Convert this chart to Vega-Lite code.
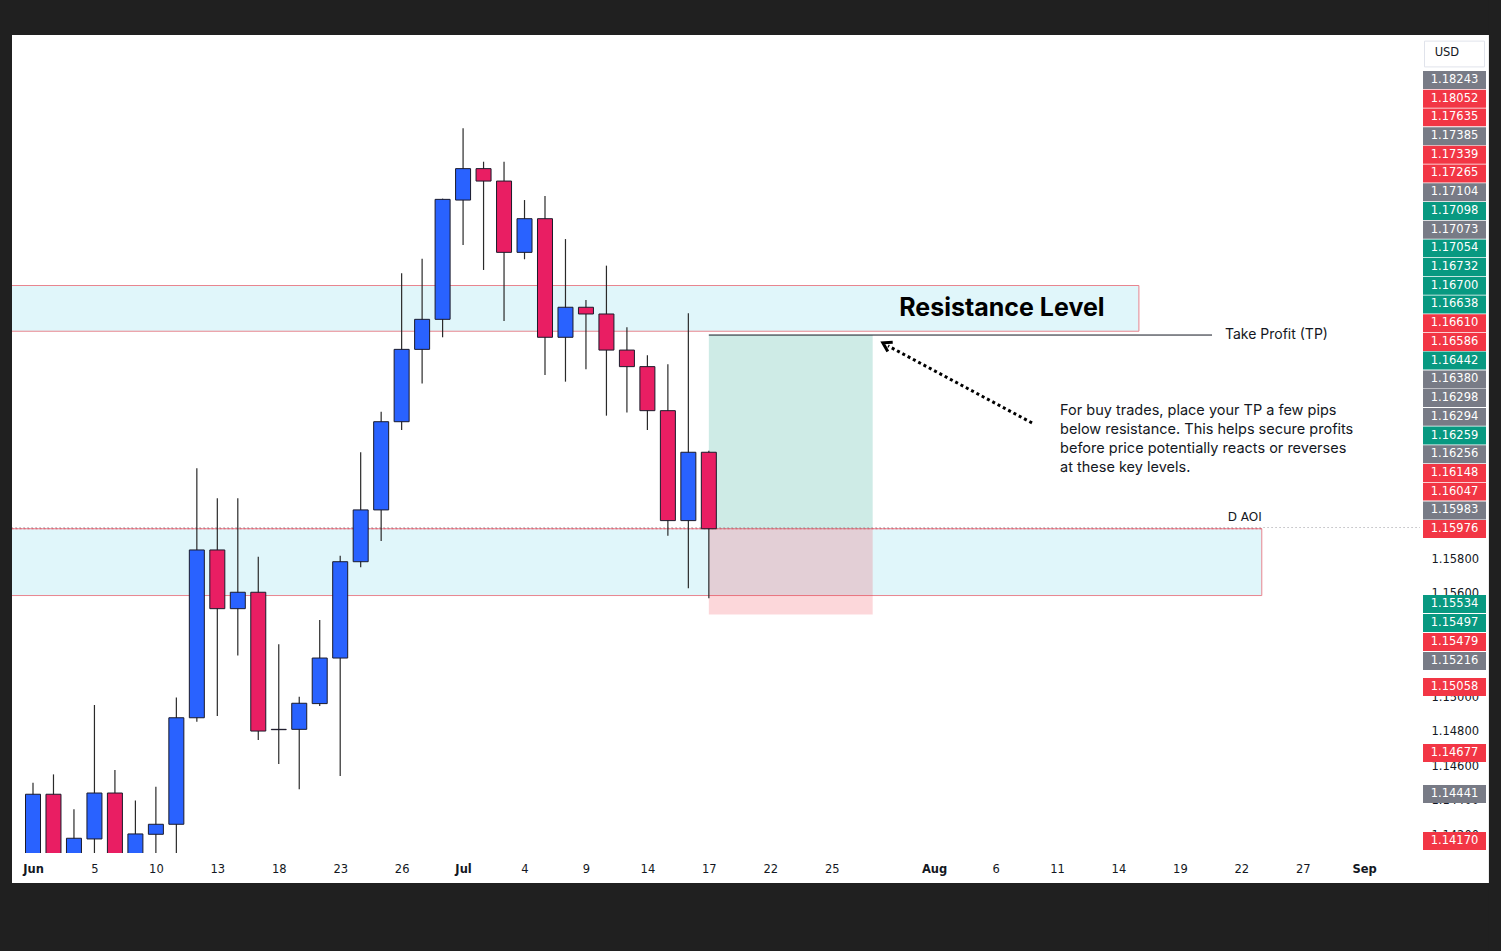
{
  "$schema": "https://vega.github.io/schema/vega-lite/v6.json",
  "width": 1408,
  "height": 818,
  "autosize": {"type": "none"},
  "padding": {"left": 12, "top": 35, "right": 81, "bottom": 98},
  "background": "#ffffff",
  "config": {"view": {"stroke": null}, "axis": {"grid": false}},
  "datasets": {
    "candles": [
      {"date": "2025-06-02", "i": 0, "o": 1.1347, "h": 1.14505, "l": 1.1345, "c": 1.14438},
      {"date": "2025-06-03", "i": 1, "o": 1.14438, "h": 1.14553, "l": 1.1368, "c": 1.1371},
      {"date": "2025-06-04", "i": 2, "o": 1.1371, "h": 1.14351, "l": 1.1357, "c": 1.14183},
      {"date": "2025-06-05", "i": 3, "o": 1.14179, "h": 1.14955, "l": 1.1395, "c": 1.14445},
      {"date": "2025-06-06", "i": 4, "o": 1.14445, "h": 1.14578, "l": 1.1374, "c": 1.1397},
      {"date": "2025-06-09", "i": 5, "o": 1.1397, "h": 1.14401, "l": 1.1386, "c": 1.14208},
      {"date": "2025-06-10", "i": 6, "o": 1.14206, "h": 1.14482, "l": 1.1389, "c": 1.14264},
      {"date": "2025-06-11", "i": 7, "o": 1.14264, "h": 1.14999, "l": 1.1403, "c": 1.14881},
      {"date": "2025-06-12", "i": 8, "o": 1.14881, "h": 1.16326, "l": 1.14858, "c": 1.15853},
      {"date": "2025-06-13", "i": 9, "o": 1.15853, "h": 1.16152, "l": 1.14891, "c": 1.15513},
      {"date": "2025-06-16", "i": 10, "o": 1.15513, "h": 1.16152, "l": 1.15241, "c": 1.15608},
      {"date": "2025-06-17", "i": 11, "o": 1.15608, "h": 1.15814, "l": 1.14752, "c": 1.14804},
      {"date": "2025-06-18", "i": 12, "o": 1.14814, "h": 1.15307, "l": 1.14613, "c": 1.14812},
      {"date": "2025-06-19", "i": 13, "o": 1.14814, "h": 1.15003, "l": 1.14467, "c": 1.14965},
      {"date": "2025-06-20", "i": 14, "o": 1.14963, "h": 1.15447, "l": 1.14949, "c": 1.15227},
      {"date": "2025-06-23", "i": 15, "o": 1.15227, "h": 1.1582, "l": 1.14544, "c": 1.15785},
      {"date": "2025-06-24", "i": 16, "o": 1.15785, "h": 1.16419, "l": 1.15753, "c": 1.16085},
      {"date": "2025-06-25", "i": 17, "o": 1.16085, "h": 1.16654, "l": 1.15905, "c": 1.16596},
      {"date": "2025-06-26", "i": 18, "o": 1.16596, "h": 1.17456, "l": 1.16548, "c": 1.17015},
      {"date": "2025-06-27", "i": 19, "o": 1.17015, "h": 1.1754, "l": 1.16818, "c": 1.17189},
      {"date": "2025-06-30", "i": 20, "o": 1.17189, "h": 1.17888, "l": 1.17085, "c": 1.17884},
      {"date": "2025-07-01", "i": 21, "o": 1.1788, "h": 1.18296, "l": 1.1762, "c": 1.18062},
      {"date": "2025-07-02", "i": 22, "o": 1.18062, "h": 1.18102, "l": 1.17475, "c": 1.1799},
      {"date": "2025-07-03", "i": 23, "o": 1.1799, "h": 1.18102, "l": 1.17179, "c": 1.17577},
      {"date": "2025-07-04", "i": 24, "o": 1.17577, "h": 1.1788, "l": 1.17537, "c": 1.17772},
      {"date": "2025-07-07", "i": 25, "o": 1.17772, "h": 1.17903, "l": 1.16867, "c": 1.17085},
      {"date": "2025-07-08", "i": 26, "o": 1.17085, "h": 1.17654, "l": 1.16828, "c": 1.17259},
      {"date": "2025-07-09", "i": 27, "o": 1.17259, "h": 1.17301, "l": 1.169, "c": 1.1722},
      {"date": "2025-07-10", "i": 28, "o": 1.1722, "h": 1.175, "l": 1.16631, "c": 1.17011},
      {"date": "2025-07-11", "i": 29, "o": 1.17011, "h": 1.17143, "l": 1.1665, "c": 1.16915},
      {"date": "2025-07-14", "i": 30, "o": 1.16915, "h": 1.16981, "l": 1.16548, "c": 1.1666},
      {"date": "2025-07-15", "i": 31, "o": 1.1666, "h": 1.16929, "l": 1.15936, "c": 1.16023},
      {"date": "2025-07-16", "i": 32, "o": 1.16023, "h": 1.17224, "l": 1.15631, "c": 1.16419},
      {"date": "2025-07-17", "i": 33, "o": 1.16419, "h": 1.16428, "l": 1.15573, "c": 1.15976}
    ],
    "pricelabels": [
      {"v": 1.18243, "kind": "grey", "at": 1.18575},
      {"v": 1.18052, "kind": "red", "at": 1.18467},
      {"v": 1.17635, "kind": "red", "at": 1.18359},
      {"v": 1.17385, "kind": "grey", "at": 1.1825},
      {"v": 1.17339, "kind": "red", "at": 1.18142},
      {"v": 1.17265, "kind": "red", "at": 1.18034},
      {"v": 1.17104, "kind": "grey", "at": 1.17925},
      {"v": 1.17098, "kind": "green", "at": 1.17817},
      {"v": 1.17073, "kind": "grey", "at": 1.17708},
      {"v": 1.17054, "kind": "green", "at": 1.176},
      {"v": 1.16732, "kind": "green", "at": 1.17492},
      {"v": 1.167, "kind": "green", "at": 1.17383},
      {"v": 1.16638, "kind": "green", "at": 1.17275},
      {"v": 1.1661, "kind": "red", "at": 1.17166},
      {"v": 1.16586, "kind": "red", "at": 1.17058},
      {"v": 1.16442, "kind": "green", "at": 1.1695},
      {"v": 1.1638, "kind": "grey", "at": 1.16841},
      {"v": 1.16298, "kind": "grey", "at": 1.16733},
      {"v": 1.16294, "kind": "grey", "at": 1.16624},
      {"v": 1.16259, "kind": "green", "at": 1.16516},
      {"v": 1.16256, "kind": "grey", "at": 1.16408},
      {"v": 1.16148, "kind": "red", "at": 1.16299},
      {"v": 1.16047, "kind": "red", "at": 1.16191},
      {"v": 1.15983, "kind": "grey", "at": 1.16082},
      {"v": 1.15976, "kind": "red", "at": 1.15974},
      {"v": 1.15534, "kind": "green", "at": 1.1554},
      {"v": 1.15497, "kind": "green", "at": 1.1543},
      {"v": 1.15479, "kind": "red", "at": 1.1532},
      {"v": 1.15216, "kind": "grey", "at": 1.1521},
      {"v": 1.15058, "kind": "red", "at": 1.15059},
      {"v": 1.14677, "kind": "red", "at": 1.14677},
      {"v": 1.14441, "kind": "grey", "at": 1.14439},
      {"v": 1.1417, "kind": "red", "at": 1.14167}
    ]
  },
  "data": {"name": "candles"},
  "layer": [
    {
      "data": {"values": [{}]},
      "mark": {"type": "rect", "color": "#202020"},
      "encoding": {
        "x": {"datum": -5, "type": "quantitative", "scale": {"domain": [-1.0254, 67.725], "nice": false, "zero": false, "padding": 0},
          "axis": {
            "orient": "bottom", "domain": false, "ticks": false, "title": null,
            "values": [0, 3, 6, 9, 12, 15, 18, 21, 24, 27, 30, 33, 36, 39, 44, 47, 50, 53, 56, 59, 62, 65],
            "labelExpr": "['Jun','5','10','13','18','23','26','Jul','4','9','14','17','22','25','Aug','6','11','14','19','22','27','Sep'][indexof([0,3,6,9,12,15,18,21,24,27,30,33,36,39,44,47,50,53,56,59,62,65], datum.value)]",
            "labelFont": "DejaVu Sans", "labelFontSize": 11.5, "labelColor": "#131722",
            "labelFontWeight": {"condition": {"test": "indexof([0,21,44,65], datum.value) >= 0", "value": "bold"}, "value": "normal"},
            "labelPadding": 16, "labelBaseline": "middle", "labelOverlap": false, "labelFlush": false
          }},
        "x2": {"datum": 75},
        "y": {"datum": 1.188361, "type": "quantitative", "scale": {"domain": [1.140976, 1.188361], "nice": false, "zero": false, "padding": 0},
          "axis": {
            "orient": "right", "domain": false, "ticks": false, "title": null,
            "values": [1.142, 1.144, 1.146, 1.148, 1.15, 1.152, 1.154, 1.156, 1.158],
            "format": ".5f", "labelFont": "DejaVu Sans", "labelFontSize": 11.5, "labelColor": "#131722",
            "labelPadding": 11, "labelOverlap": false, "labelFlush": false
          }},
        "y2": {"datum": 1.2}
      }
    },
    {
      "data": {"values": [{}]},
      "mark": {"type": "rect", "color": "#202020"},
      "encoding": {"x": {"datum": -5}, "x2": {"datum": 75}, "y": {"datum": 1.139238}, "y2": {"datum": 1.13}}
    },
    {
      "data": {"values": [{}]},
      "mark": {"type": "rect", "color": "#202020"},
      "encoding": {"x": {"datum": -5}, "x2": {"datum": -1.0254}, "y": {"datum": 1.13}, "y2": {"datum": 1.2}}
    },
    {
      "data": {"values": [{}]},
      "mark": {"type": "rect", "color": "#202020"},
      "encoding": {"x": {"datum": 71.09}, "x2": {"datum": 75}, "y": {"datum": 1.13}, "y2": {"datum": 1.2}}
    },
    {
      "data": {"values": [{}]},
      "mark": {"type": "rect", "fill": "#e0f6fa", "stroke": "#e8858f", "strokeWidth": 1, "clip": true},
      "encoding": {"x": {"datum": -3}, "x2": {"datum": 54}, "y": {"datum": 1.17385}, "y2": {"datum": 1.1712}}
    },
    {
      "data": {"values": [{}]},
      "mark": {"type": "rect", "fill": "#e0f6fa", "stroke": "#e8858f", "strokeWidth": 1, "clip": true},
      "encoding": {"x": {"datum": -3}, "x2": {"datum": 60}, "y": {"datum": 1.15976}, "y2": {"datum": 1.15589}}
    },
    {
      "data": {"values": [{}]},
      "mark": {"type": "rect", "fill": "#089981", "opacity": 0.2},
      "encoding": {"x": {"datum": 33}, "x2": {"datum": 41}, "y": {"datum": 1.17098}, "y2": {"datum": 1.15976}}
    },
    {
      "data": {"values": [{}]},
      "mark": {"type": "rect", "fill": "#f23645", "opacity": 0.2},
      "encoding": {"x": {"datum": 33}, "x2": {"datum": 41}, "y": {"datum": 1.15976}, "y2": {"datum": 1.15479}}
    },
    {
      "data": {"values": [{}]},
      "mark": {"type": "rule", "color": "#9a9aa0", "strokeWidth": 1, "strokeDash": [1, 3], "clip": true},
      "encoding": {"x": {"datum": -3}, "x2": {"datum": 67.8}, "y": {"datum": 1.15983}}
    },
    {
      "data": {"values": [{}]},
      "mark": {"type": "rule", "color": "#d9596a", "strokeWidth": 1, "strokeDash": [2, 2], "clip": true},
      "encoding": {"x": {"datum": -3}, "x2": {"datum": 60}, "y": {"datum": 1.15976}}
    },
    {
      "data": {"values": [{}]},
      "mark": {"type": "rule", "color": "#131722", "strokeWidth": 1},
      "encoding": {"x": {"datum": 33}, "x2": {"datum": 57.57}, "y": {"datum": 1.17098}}
    },
    {
      "mark": {"type": "rule", "color": "#2a2a2a", "strokeWidth": 1.2, "clip": true},
      "encoding": {
        "x": {"field": "i", "type": "quantitative"},
        "y": {"field": "l", "type": "quantitative"},
        "y2": {"field": "h"}
      }
    },
    {
      "mark": {"type": "bar", "width": 15, "stroke": "#1b1b2b", "strokeWidth": 1, "clip": true},
      "encoding": {
        "x": {"field": "i", "type": "quantitative"},
        "y": {"field": "o", "type": "quantitative"},
        "y2": {"field": "c"},
        "color": {"condition": {"test": "datum.c >= datum.o", "value": "#2962ff"}, "value": "#e91e63"}
      }
    },
    {
      "data": {"values": [{}]},
      "mark": {"type": "text", "text": "Resistance Level", "font": "Inter", "fontSize": 25, "fontWeight": 700, "align": "center", "baseline": "middle", "color": "#000000"},
      "encoding": {"x": {"datum": 47.31}, "y": {"datum": 1.17255}}
    },
    {
      "data": {"values": [{}]},
      "mark": {"type": "text", "text": "Take Profit (TP)", "font": "Inter", "fontSize": 14, "align": "left", "baseline": "middle", "color": "#131722"},
      "encoding": {"x": {"datum": 58.2}, "y": {"datum": 1.17098}}
    },
    {
      "data": {"values": [{}]},
      "mark": {"type": "text", "text": ["For buy trades, place your TP a few pips", "below resistance. This helps secure profits", "before price potentially reacts or reverses", "at these key levels."], "lineHeight": 19, "font": "Inter", "fontSize": 14.5, "align": "left", "baseline": "top", "color": "#131722"},
      "encoding": {"x": {"datum": 50.15}, "y": {"datum": 1.16699}}
    },
    {
      "data": {"values": [{}]},
      "mark": {"type": "text", "text": "D AOI", "font": "DejaVu Sans", "fontSize": 12, "align": "right", "baseline": "middle", "color": "#131722"},
      "encoding": {"x": {"datum": 60}, "y": {"datum": 1.16044}}
    },
    {
      "data": {"values": [{}]},
      "mark": {"type": "rule", "color": "#000000", "strokeWidth": 3, "strokeDash": [3, 3]},
      "encoding": {"x": {"datum": 48.78}, "x2": {"datum": 41.75}, "y": {"datum": 1.16589}, "y2": {"datum": 1.17035}}
    },
    {
      "data": {"values": [{}]},
      "mark": {"type": "point", "shape": "M0.7,-1L-0.9,0L0.7,1", "filled": false, "stroke": "#000000", "strokeWidth": 3, "size": 110, "angle": 28, "opacity": 1},
      "encoding": {"x": {"datum": 41.7}, "y": {"datum": 1.1704}}
    },
    {
      "data": {"values": [{}]},
      "mark": {"type": "point", "shape": "M-1,-0.43H1V0.43H-1Z", "filled": true, "fill": "#ffffff", "stroke": "#e0e3eb", "strokeWidth": 1, "size": 3600, "opacity": 1},
      "encoding": {"x": {"datum": 69.41}, "y": {"datum": 1.18726}}
    },
    {
      "data": {"values": [{}]},
      "mark": {"type": "text", "text": "USD", "font": "DejaVu Sans", "fontSize": 11.5, "align": "center", "baseline": "middle", "color": "#131722"},
      "encoding": {"x": {"datum": 69.04}, "y": {"datum": 1.18732}}
    },
    {
      "data": {"name": "pricelabels"},
      "mark": {"type": "point", "shape": "M-1,-0.285H1V0.285H-1Z", "filled": true, "size": 3969, "opacity": 1, "strokeWidth": 0},
      "encoding": {
        "x": {"datum": 69.41},
        "y": {"field": "at", "type": "quantitative"},
        "color": {"field": "kind", "type": "nominal", "scale": {"domain": ["grey", "red", "green"], "range": ["#787b86", "#f23645", "#089981"]}, "legend": null}
      }
    },
    {
      "data": {"name": "pricelabels"},
      "mark": {"type": "text", "font": "DejaVu Sans", "fontSize": 11.5, "align": "center", "baseline": "middle", "color": "#ffffff"},
      "encoding": {
        "x": {"datum": 69.41},
        "y": {"field": "at", "type": "quantitative"},
        "text": {"field": "v", "type": "quantitative", "format": ".5f"}
      }
    }
  ]
}
